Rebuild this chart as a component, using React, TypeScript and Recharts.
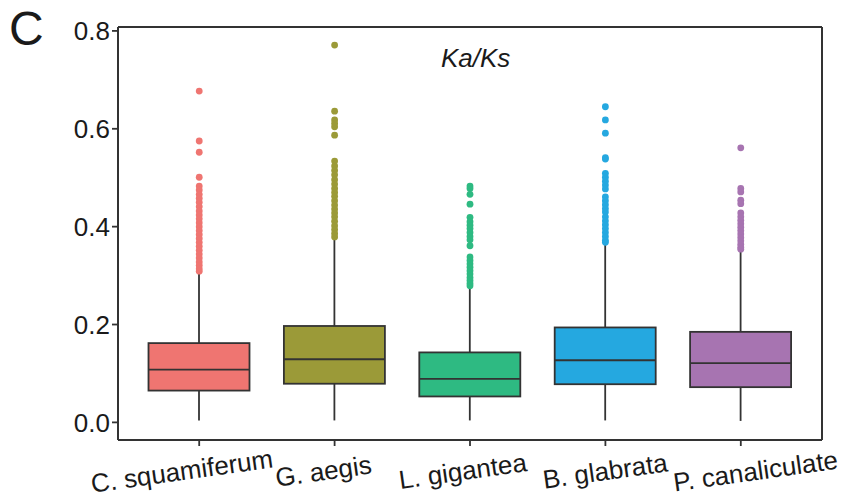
import React from 'react';
import { ComposedChart, Bar, Scatter, XAxis, YAxis, ReferenceLine } from 'recharts';

const categories = ['C. squamiferum', 'G. aegis', 'L. gigantea', 'B. glabrata', 'P. canaliculate'];
const colors = ['#EF7571', '#9B9A38', '#2EBA82', '#25A8E0', '#A774B1'];
const q1Values = [0.065, 0.079, 0.053, 0.078, 0.072];
const medianValues = [0.108, 0.129, 0.089, 0.127, 0.121];
const q3Values = [0.162, 0.197, 0.143, 0.194, 0.185];
const whiskerLow = [0.004, 0.004, 0.004, 0.004, 0.003];
const whiskerHigh = [0.307, 0.376, 0.276, 0.366, 0.352];
const yTicks = [0, 0.2, 0.4, 0.6, 0.8];

const outliersC = [0.677, 0.575, 0.552, 0.501, 0.483, 0.475, 0.466, 0.458, 0.45, 0.441, 0.432, 0.424, 0.416, 0.408, 0.4, 0.392, 0.384, 0.376, 0.368, 0.36, 0.352, 0.344, 0.336, 0.328, 0.321, 0.314, 0.309];
const outliersG = [0.771, 0.636, 0.618, 0.611, 0.604, 0.587, 0.534, 0.524, 0.515, 0.506, 0.496, 0.487, 0.478, 0.47, 0.462, 0.453, 0.444, 0.436, 0.428, 0.42, 0.411, 0.402, 0.394, 0.386, 0.379];
const outliersL = [0.483, 0.478, 0.466, 0.446, 0.419, 0.41, 0.403, 0.396, 0.388, 0.38, 0.373, 0.361, 0.338, 0.331, 0.324, 0.317, 0.31, 0.303, 0.296, 0.29, 0.284, 0.279];
const outliersB = [0.645, 0.618, 0.591, 0.541, 0.538, 0.509, 0.501, 0.493, 0.485, 0.477, 0.461, 0.453, 0.445, 0.437, 0.43, 0.42, 0.412, 0.404, 0.396, 0.388, 0.38, 0.372, 0.368];
const outliersP = [0.561, 0.478, 0.471, 0.454, 0.447, 0.428, 0.42, 0.413, 0.406, 0.399, 0.392, 0.385, 0.378, 0.371, 0.364, 0.358, 0.354];
const outlierLists = [outliersC, outliersG, outliersL, outliersB, outliersP];

// label styling: small horizontal nudges so the slanted labels sit as in the figure
const tickLabelNudge: Record<string, number> = {
  'C. squamiferum': -16,
  'G. aegis': -10,
  'L. gigantea': -6,
  'B. glabrata': 1,
  'P. canaliculate': 16,
};

const Y_MIN = -0.036;
const Y_MAX = 0.808;
const X_MIN = -0.6;
const X_MAX = 4.6;

const data = categories.map((name, i) => ({
  name,
  box: [q1Values[i], q3Values[i]],
  q1: q1Values[i],
  med: medianValues[i],
  q3: q3Values[i],
  lo: whiskerLow[i],
  hi: whiskerHigh[i],
  color: colors[i],
}));

const scatterSets = outlierLists.map((list, i) => list.map((v) => ({ x: i, y: v })));

const FONT = '"Liberation Sans", Arial, Helvetica, sans-serif';
const DARK = '#333333';

const BoxShape = (props: any) => {
  const { x, y, width, height, payload } = props;
  if (!payload) return null;
  const top = Math.min(y, y + height);
  const h = Math.abs(height);
  const bottom = top + h;
  const k = h / (payload.q3 - payload.q1);
  const cx = x + width / 2;
  const medY = top + (payload.q3 - payload.med) * k;
  const hiY = top - (payload.hi - payload.q3) * k;
  const loY = bottom + (payload.q1 - payload.lo) * k;
  return (
    <g>
      <line x1={cx} x2={cx} y1={hiY} y2={top} stroke={DARK} strokeWidth={1.8} />
      <line x1={cx} x2={cx} y1={bottom} y2={loY} stroke={DARK} strokeWidth={1.8} />
      <rect x={x} y={top} width={width} height={h} fill={payload.color} stroke={DARK} strokeWidth={1.8} />
      <line x1={x} x2={x + width} y1={medY} y2={medY} stroke={DARK} strokeWidth={1.8} />
    </g>
  );
};

const XTick = (props: any) => {
  const { x, y, payload } = props;
  const tx = x + (tickLabelNudge[payload.value] || 0);
  const ty = y + 32;
  return (
    <text
      x={tx}
      y={ty}
      transform={`rotate(-8, ${tx}, ${ty})`}
      textAnchor="middle"
      fontSize={26}
      fontFamily={FONT}
      fill="#1a1a1a"
    >
      {payload.value}
    </text>
  );
};

export default function App() {
  return (
    <div style={{ position: 'absolute', left: 0, top: 0, width: 853, height: 498, background: '#fff' }}>
      <div style={{ position: 'absolute', left: 9, top: 0, fontSize: 48, fontFamily: FONT, color: '#1a1a1a', lineHeight: '58px' }}>C</div>
      <div style={{ position: 'absolute', left: 441, top: 43, fontSize: 26, fontStyle: 'italic', fontFamily: FONT, color: '#1a1a1a', lineHeight: '30px' }}>Ka/Ks</div>
      <ComposedChart
        width={853}
        height={498}
        data={data}
        margin={{ top: 27, right: 31, bottom: 0, left: 0 }}
        style={{ position: 'absolute', left: 0, top: 0 }}
      >
        <XAxis
          dataKey="name"
          type="category"
          height={58}
          padding={{ left: 13.5, right: 13.5 }}
          axisLine={{ stroke: DARK, strokeWidth: 2 }}
          tickLine={{ stroke: DARK, strokeWidth: 1.8 }}
          tickSize={6}
          tick={<XTick />}
          interval={0}
        />
        <XAxis xAxisId="num" type="number" dataKey="x" domain={[X_MIN, X_MAX]} allowDataOverflow hide />
        <YAxis
          type="number"
          domain={[Y_MIN, Y_MAX]}
          allowDataOverflow
          ticks={yTicks}
          tickFormatter={(v: number) => v.toFixed(1)}
          width={118}
          axisLine={{ stroke: DARK, strokeWidth: 2 }}
          tickLine={{ stroke: DARK, strokeWidth: 1.8 }}
          tickSize={6}
          tickMargin={2}
          tick={{ fontSize: 26, fontFamily: FONT, fill: '#1a1a1a' }}
        />
        <Bar dataKey="box" barSize={101} shape={<BoxShape />} isAnimationActive={false} />
        <ReferenceLine y={Y_MAX} stroke={DARK} strokeWidth={2} ifOverflow="visible" />
        <ReferenceLine xAxisId="num" x={X_MAX} stroke={DARK} strokeWidth={2} ifOverflow="visible" />
        {scatterSets.map((set, i) => (
          <Scatter
            key={categories[i]}
            data={set}
            xAxisId="num"
            dataKey="y"
            fill={colors[i]}
            shape={(p: any) => <circle cx={p.cx} cy={p.cy} r={3.4} fill={colors[i]} />}
            isAnimationActive={false}
          />
        ))}
      </ComposedChart>
    </div>
  );
}
